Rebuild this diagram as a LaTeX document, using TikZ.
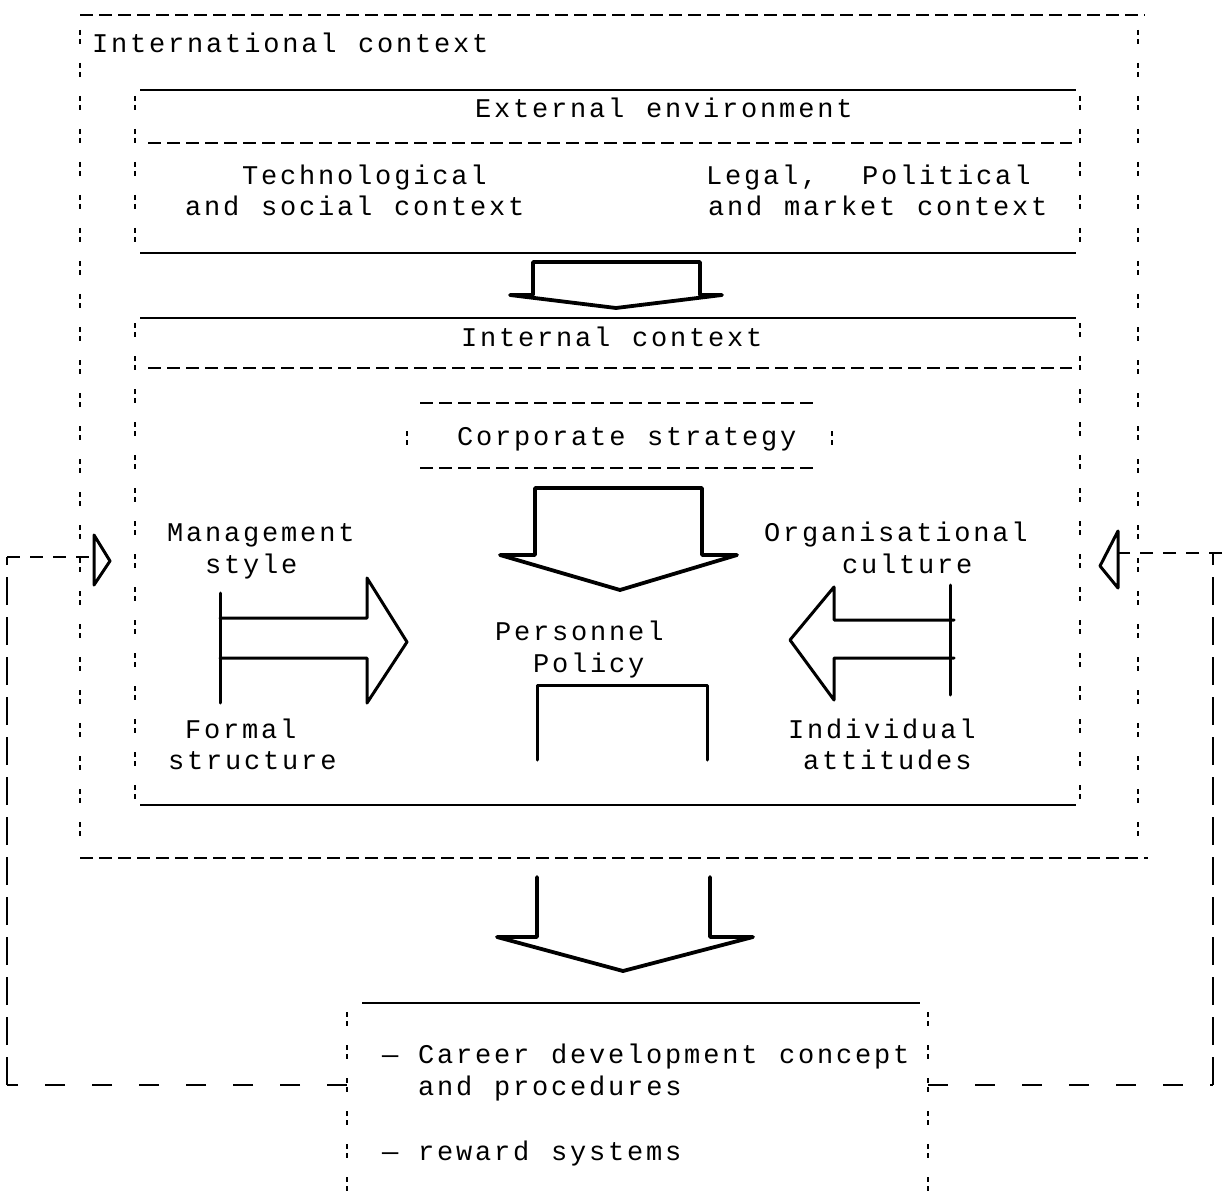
\documentclass[tikz,border=0pt]{standalone}
\usepackage{fontspec}
\newfontfamily\plotfont[LetterSpace=10.5]{Liberation Mono}
\begin{document}
\begin{tikzpicture}[x=1pt,y=-1pt,
  every node/.style={inner sep=0pt, outer sep=0pt},
  word/.style={anchor=base west, font=\plotfont\fontsize{27}{27}\selectfont},
  rule/.style={line width=1.8pt},
  hdash/.style={line width=1.8pt, dash pattern=on 13pt off 6pt},
  vdash/.style={line width=1.8pt, dash pattern=on 5pt off 4pt on 5pt off 19pt},
  fbvert/.style={line width=2.4pt, dash pattern=on 28pt off 12pt},
  fbhoriz/.style={line width=2.4pt, dash pattern=on 20pt off 27pt},
  fbshort/.style={line width=2pt, dash pattern=on 13pt off 10pt},
  bigarrow/.style={line width=3.8pt, line join=round, line cap=round},
  sidearrow/.style={line width=3pt, line join=round, line cap=round},
  tip/.style={line width=3pt, line join=round}]
\useasboundingbox (0,0) rectangle (1224,1193);
\fill[white] (0,0) rectangle (1224,1193);

% ---------- International context (outer frame)
\draw[hdash] (80,15) -- (1145,15);
\draw[vdash] (80,30) -- (80,840);
\draw[vdash] (1138,30) -- (1138,840);
\draw[hdash] (80,858) -- (1148,858);
\node[word] (intl1) at (92,53) {International};
\node[word] (intl2) at (358,53) {context};

% ---------- External environment
\draw[rule] (140,90) -- (1076,90);
\draw[hdash] (148,143) -- (1072,143);
\draw[rule] (140,253) -- (1076,253);
\draw[vdash] (135,96) -- (135,250);
\draw[vdash] (1080,96) -- (1080,250);
\node[word] (ext1) at (475,118) {External};
\node[word] (ext2) at (646,118) {environment};
\node[word] (tech1) at (242,185) {Technological};
\node[word] (tech2) at (185,216) {and};
\node[word] (tech3) at (261,216) {social};
\node[word] (tech4) at (394,216) {context};
\node[word] (leg1) at (706,185) {Legal,};
\node[word] (leg2) at (862,185) {Political};
\node[word] (leg3) at (708,216) {and};
\node[word] (leg4) at (784,216) {market};
\node[word] (leg5) at (917,216) {context};

% arrow: external environment -> internal context
\draw[bigarrow] (510,295) -- (533,295) -- (533,262) -- (700,262) -- (700,295)
  -- (722,295) -- (616,308) -- cycle;

% ---------- Internal context
\draw[rule] (140,318) -- (1076,318);
\draw[hdash] (148,368) -- (1072,368);
\draw[rule] (140,805) -- (1076,805);
\draw[vdash] (135,323) -- (135,800);
\draw[vdash] (1080,323) -- (1080,800);
\node[word] (int1) at (461,346) {Internal};
\node[word] (int2) at (632,346) {context};

% corporate strategy box
\draw[hdash] (420,403) -- (818,403);
\draw[hdash] (420,468) -- (818,468);
\draw[vdash] (407,431) -- (407,445);
\draw[vdash] (832,431) -- (832,445);
\node[word] (corp1) at (457,445) {Corporate};
\node[word] (corp2) at (647,445) {strategy};

% arrow: corporate strategy -> personnel policy
\draw[bigarrow] (500,555) -- (535,555) -- (535,488) -- (702,488) -- (702,555)
  -- (737,555) -- (620,590) -- cycle;

% personnel policy and the open shaft below it
\node[word] (pers1) at (495,640) {Personnel};
\node[word] (pers2) at (533,672) {Policy};
\draw[sidearrow] (537,760) -- (537,685) -- (707,685) -- (707,760);

% left influences
\node[word] (mgmt1) at (167,541) {Management};
\node[word] (mgmt2) at (205,573) {style};
\node[word] (form1) at (185,738) {Formal};
\node[word] (form2) at (168,769) {structure};
\draw[sidearrow] (220,593) -- (220,703);
\draw[sidearrow] (220,618) -- (367,618) -- (367,578) -- (407,642) -- (367,703)
  -- (367,658) -- (220,658);

% right influences
\node[word] (org1) at (764,541) {Organisational};
\node[word] (org2) at (842,573) {culture};
\node[word] (ind1) at (788,738) {Individual};
\node[word] (ind2) at (803,769) {attitudes};
\draw[sidearrow] (950,585) -- (950,695);
\draw[sidearrow] (954,620) -- (834,620) -- (834,587) -- (790,640) -- (834,700)
  -- (834,658) -- (954,658);

% arrow: context -> personnel instruments
\draw[bigarrow] (537,877) -- (537,937) -- (497,937) -- (623,971) -- (753,937)
  -- (710,937) -- (710,877);

% ---------- Personnel instruments
\draw[rule] (362,1003) -- (920,1003);
\draw[vdash] (347,1012) -- (347,1193);
\draw[vdash] (928,1012) -- (928,1193);
\node[word] (car0) at (382,1063) {—};
\node[word] (car1) at (418,1063) {Career};
\node[word] (car2) at (551,1063) {development};
\node[word] (car3) at (779,1063) {concept};
\node[word] (car4) at (418,1095) {and};
\node[word] (car5) at (494,1095) {procedures};
\node[word] (rew0) at (382,1160) {—};
\node[word] (rew1) at (418,1160) {reward};
\node[word] (rew2) at (551,1160) {systems};

% ---------- feedback loops
\coordinate (cbL) at (347,1085);
\coordinate (cbR) at (928,1085);
\coordinate (fbL) at (94,557);
\coordinate (fbR) at (1118,553);
\coordinate (cornLB) at (7,1085);
\coordinate (cornLT) at (7,557);
\coordinate (cornRB) at (1213,1085);
\coordinate (cornRT) at (1213,553);

\draw[fbhoriz] (cbL) -- (cornLB);
\draw[fbvert] (cornLB) -- (cornLT);
\draw[fbshort] (cornLT) -- (fbL);
\draw[tip] (94,535) -- (110,561) -- (94,585) -- cycle;

\draw[fbhoriz] (cbR) -- (cornRB);
\draw[fbvert] (cornRB) -- (cornRT);
\draw[fbshort] (1222,553) -- (fbR);
\draw[tip] (1118,531) -- (1100,566) -- (1118,588) -- cycle;
\end{tikzpicture}
\end{document}
